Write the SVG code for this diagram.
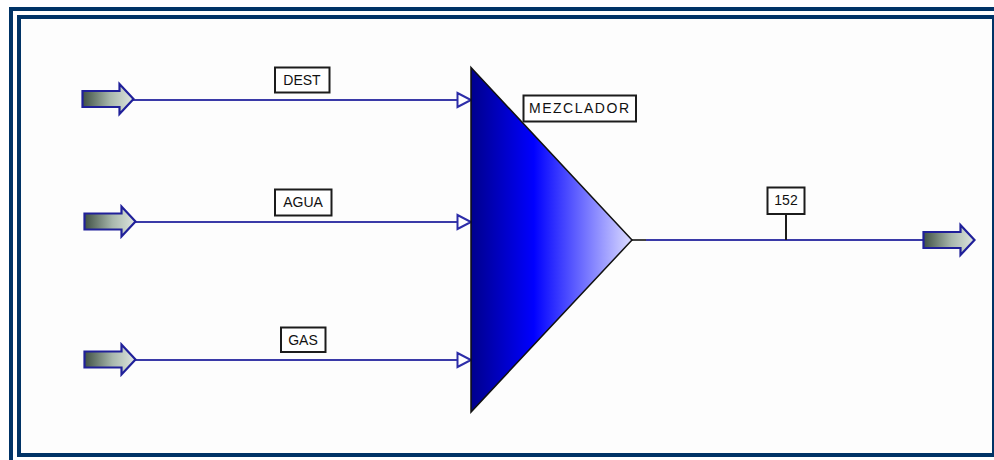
<svg xmlns="http://www.w3.org/2000/svg" width="994" height="460" viewBox="0 0 994 460">
<style>
.frame{fill:#003366}
.stream{fill:none;stroke:#3a3aa8;stroke-width:2.200}
.port{fill:url(#portGrad);stroke:#20209a;stroke-width:2.200}
.tag{fill:#fff;stroke:#1c1c1c;stroke-width:2}
.tagline{stroke:#1c1c1c;stroke-width:2}
.lbl{font-family:"Liberation Sans",Arial,sans-serif;font-size:14px;fill:#111;text-anchor:middle}
.inlet{fill:#fff;stroke:#2c2ca8;stroke-width:2}
</style>
<defs>
<linearGradient id="portGrad" x1="0" y1="0" x2="1" y2="0">
<stop offset="0" stop-color="#3f5044"/><stop offset="0.55" stop-color="#a9b8ad"/><stop offset="1" stop-color="#dfe6e0"/>
</linearGradient>
<linearGradient id="mixGrad" gradientUnits="userSpaceOnUse" x1="471" y1="0" x2="632" y2="0">
<stop offset="0" stop-color="#00008c"/><stop offset="0.39" stop-color="#0000ff"/><stop offset="1" stop-color="#dcdcff"/>
</linearGradient>
<path id="portShape" d="M0-8H37V-15L51 0 37 15V8H0Z"/>
</defs>
<rect width="994" height="460" fill="#fff"/>
<rect x="21" y="19" width="972" height="434" fill="#fdfdfd"/>
<g id="frame">
<rect class="frame" x="9" y="7" width="985" height="4"/>
<rect class="frame" x="9" y="7" width="4" height="453"/>
<rect class="frame" x="17" y="15" width="977" height="4"/>
<rect class="frame" x="17" y="15" width="4" height="442"/>
<rect class="frame" x="17" y="453" width="977" height="4"/>
<rect class="frame" x="992" y="15" width="2" height="442"/>
</g>
<g id="connectors">
<path class="stream" d="M133 100H457"/>
<path class="stream" d="M135 222H457"/>
<path class="stream" d="M135 360H457"/>
<path d="M632 240H646" fill="none" stroke="#444" stroke-width="2"/>
<path class="stream" d="M646 240H924"/>
<path class="inlet" d="M457.500 93L471 100 457.500 107Z"/>
<path class="inlet" d="M457.500 215L471 222 457.500 229Z"/>
<path class="inlet" d="M457.500 353L471 360 457.500 367Z"/>
<path class="tagline" d="M786 214V240"/>
</g>
<g id="port-dest"><use href="#portShape" class="port" x="82.500" y="99"/></g>
<g id="port-agua"><use href="#portShape" class="port" x="84.500" y="221.500"/></g>
<g id="port-gas"><use href="#portShape" class="port" x="84.500" y="359.500"/></g>
<g id="port-152"><use href="#portShape" class="port" x="923.500" y="240"/></g>
<g id="mixer"><path d="M471 67.500L632 240 471 412Z" fill="url(#mixGrad)" stroke="#111" stroke-width="1.500"/></g>
<g id="label-dest"><rect class="tag" x="275" y="67.500" width="54.500" height="25"/><text class="lbl" x="302" y="85">DEST</text></g>
<g id="label-agua"><rect class="tag" x="275" y="189.500" width="56.500" height="26"/><text class="lbl" x="303" y="207">AGUA</text></g>
<g id="label-gas"><rect class="tag" x="281" y="327.500" width="44.500" height="24.500"/><text class="lbl" x="303" y="344.500">GAS</text></g>
<g id="label-mezclador"><rect class="tag" x="523.500" y="95.500" width="112.500" height="26"/><text class="lbl" x="579" y="113" textLength="100">MEZCLADOR</text></g>
<g id="label-152"><rect class="tag" x="767.500" y="187.500" width="37" height="26.500"/><text class="lbl" x="786" y="205">152</text></g>
</svg>
